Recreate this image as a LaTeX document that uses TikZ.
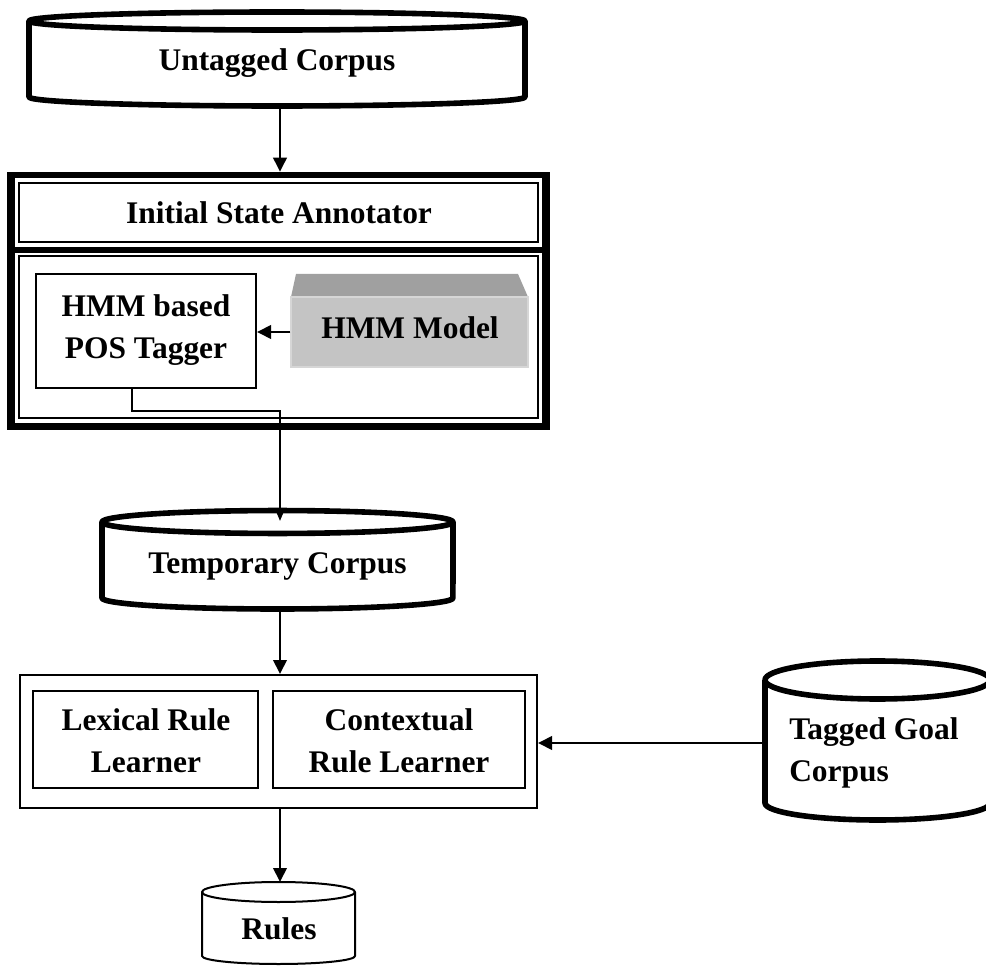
\documentclass[tikz,border=0pt]{standalone}
\usepackage{fontspec}
\setmainfont{Liberation Serif}
\usetikzlibrary{arrows.meta,fit,calc}
\definecolor{hmmtop}{HTML}{A0A0A0}
\definecolor{hmmfront}{HTML}{C4C4C4}
\definecolor{hmmedge}{HTML}{D6D6D6}
\begin{document}
\begin{tikzpicture}[x=0.75pt,y=-0.75pt,
  lbl/.style={font=\fontsize{23.6}{31.5}\selectfont\bfseries, align=center, inner sep=0pt},
  thinbox/.style={draw, line width=1.5pt, inner sep=0pt},
  cyl/.style={draw, line width=4.2pt, line join=round},
  thincyl/.style={draw, line width=1.5pt, line join=round},
  arr/.style={line width=2pt, -{Triangle[length=10.5pt,width=10pt]}},
  thinarr/.style={line width=1.5pt, -{Triangle[length=9pt,width=7pt]}}]
\useasboundingbox (0,0) rectangle (986,966);

% Untagged Corpus
\draw[cyl] (29,21) -- (29,97) arc[start angle=180,end angle=360,x radius=186pt,y radius=6.75pt] -- (525,21);
\draw[cyl] (277,21) ellipse [x radius=186pt, y radius=6.75pt];
\node[lbl] (untag) at (277,63) {Untagged Corpus};
\coordinate (untagbot) at (280,107);

% Initial State Annotator frame
\node[fit={(7,172) (550,430)}, inner sep=0pt, fill=black] (isaframe) {};
\fill[white] (15,178) rectangle (542,247);
\fill[white] (15,253) rectangle (542,423);
\node[thinbox, fit={(18.7,183) (538.3,241.7)}] (isabox) {};
\node[lbl] (isa) at (279,213) {Initial State Annotator};
\node[thinbox, fit={(18.7,256) (538.3,418)}] (isabody) {};
\draw[arr] (untagbot) -- (untagbot |- isaframe.north);

% HMM based POS Tagger
\node[thinbox, fit={(36,274) (256,388)}] (posbox) {};
\node[lbl] (pos) at (146,330) {HMM based\\POS Tagger};

% HMM Model
\fill[hmmtop] (296,274) -- (518,274) -- (528,297) -- (291,297) -- cycle;
\node[fit={(291,297) (528,367)}, inner sep=0pt, fill=hmmfront, draw=hmmedge, line width=1pt] (hmmbox) {};
\node[lbl] (hmm) at (410,328) {HMM Model};
\draw[arr] (hmmbox.west) -- (hmmbox.west -| posbox.east);

% Temporary Corpus
\draw[cyl] (102,522) -- (102,598) arc[start angle=180,end angle=360,x radius=131.6pt,y radius=8.25pt] -- (453,522);
\draw[cyl] (277.5,522) ellipse [x radius=131.6pt, y radius=8.6pt];
\node[lbl] (temp) at (277.5,566) {Temporary Corpus};
\coordinate (tempbot) at (280,609);
\coordinate (temptop) at (280,521);
\coordinate (posx) at (132,0);
\coordinate (turn) at (280,411);
\draw[thinarr] (posbox.south -| posx) |- (turn) -- (temptop);

% Learners
\node[thinbox, fit={(20,675) (537,808)}] (learn) {};
\node[thinbox, fit={(33,691) (258,788)}] (lexbox) {};
\node[lbl] (lex) at (146,741) {Lexical Rule\\Learner};
\node[thinbox, fit={(273,691) (525,788)}] (ctxbox) {};
\node[lbl] (ctx) at (399,741) {Contextual\\Rule Learner};
\draw[arr] (tempbot) -- (tempbot |- learn.north);

% Tagged Goal Corpus
\begin{scope}
\clip (0,0) rectangle (986,966);
\draw[cyl] (765,680) -- (765,803) arc[start angle=180,end angle=360,x radius=84.4pt,y radius=12.75pt] -- (990,680);
\draw[cyl] (877.5,680) ellipse [x radius=84.4pt, y radius=14.25pt];
\end{scope}
\node[lbl, align=left, anchor=west] (goal) at (789,753) {Tagged Goal\\Corpus};
\coordinate (goalleft) at (765,743);
\draw[arr] (goalleft) -- (goalleft -| learn.east);

% Rules
\draw[thincyl] (202,892) -- (202,956) arc[start angle=180,end angle=360,x radius=57.4pt,y radius=6pt] -- (355,892);
\draw[thincyl] (278.5,892) ellipse [x radius=57.4pt, y radius=7.5pt];
\node[lbl] (rules) at (279,929) {Rules};
\coordinate (rulestop) at (280,882);
\draw[arr] (learn.south -| rulestop) -- (rulestop);
\end{tikzpicture}
\end{document}
